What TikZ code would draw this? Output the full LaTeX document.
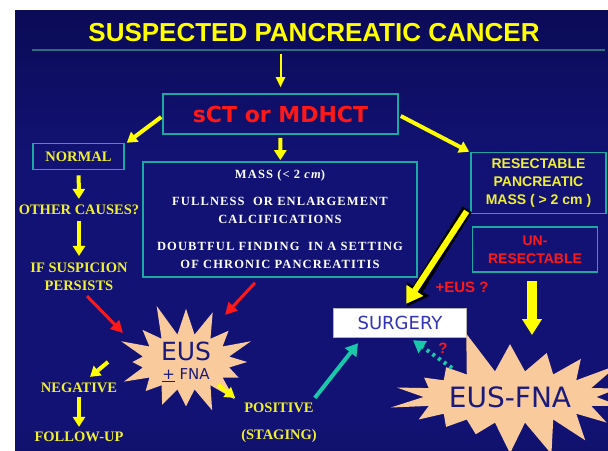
\documentclass[tikz,border=0pt]{standalone}
\usepackage{fontspec}
\setmainfont{Liberation Serif}
\setsansfont{Liberation Sans}
\newfontfamily\comicfont{DejaVu Sans}
\newfontfamily\massfont[LetterSpace=9]{Liberation Serif}
\usepackage{tikz}
\usetikzlibrary{arrows.meta,positioning,shapes.symbols}
\definecolor{slidetop}{HTML}{00002C}
\definecolor{slidemid}{HTML}{121274}
\definecolor{slidebot}{HTML}{02022E}
\definecolor{boxteal}{HTML}{1FA8A0}
\definecolor{ruleteal}{HTML}{2E6E7C}
\definecolor{flowyellow}{HTML}{FFFF00}
\definecolor{textyellow}{HTML}{F0F030}
\definecolor{alertred}{HTML}{FF1818}
\definecolor{linkteal}{HTML}{19C8A8}
\definecolor{burstpeach}{HTML}{F8CA9C}
\definecolor{inkblue}{HTML}{1A1A7A}
\definecolor{surgeryblue}{HTML}{3333B5}
\pgfdeclareverticalshading{slidebg}{100bp}{color(0bp)=(slidebot); color(28bp)=(slidemid); color(58bp)=(slidemid); color(100bp)=(slidetop)}
\tikzset{
  box/.style={draw=boxteal, line width=1.6pt, align=center, inner sep=2pt},
  ylabel/.style={text=textyellow, font=\bfseries\fontsize{14.5}{16}\selectfont,
                 inner sep=1pt, align=center},
  slabel/.style={font=\sffamily\bfseries\fontsize{14}{18}\selectfont, align=center},
  thinflow/.style={-{Triangle[length=10pt,width=9pt]}, line width=2pt, draw=flowyellow},
  flow/.style={-{Triangle[length=10pt,width=12pt]}, line width=4pt, draw=flowyellow},
  fatflow/.style={-{Triangle[length=16pt,width=19pt]}, line width=10pt, draw=flowyellow},
  redflow/.style={-{Triangle[length=12pt,width=12pt]}, line width=3pt, draw=alertred},
  tealflow/.style={-{Triangle[length=12pt,width=14pt]}, line width=4pt, draw=linkteal},
  dotflow/.style={tealflow, dash pattern=on 3pt off 4pt},
  burst/.style={starburst, fill=burstpeach, draw=none, text=inkblue, align=center,
                inner sep=0pt}
}

\begin{document}
\begin{tikzpicture}[x=1pt, y=-1pt]
  \fill[white] (0,0) rectangle (608,450);
  \useasboundingbox (0,0) rectangle (608,450);
  \clip (0,0) rectangle (608,450);
  \shade[shading=slidebg] (15,10) rectangle (608,450);
  \draw[ruleteal, line width=1.5pt] (32,50) -- (605,50);

  \node[text=flowyellow, font=\sffamily\bfseries\fontsize{26}{30}\selectfont] (title) at (314,33) {SUSPECTED PANCREATIC CANCER};
  \node[box, minimum width=235pt, minimum height=40pt, text=alertred, font=\comicfont\bfseries\fontsize{22}{26}\selectfont] (sct) at (280.5,114) {sCT or MDHCT};

  % left column
  \node[box, ylabel, minimum width=91pt, minimum height=26pt] (normal) at (78.5,156.5) {NORMAL};
  \node[ylabel] (other) at (79,210) {OTHER CAUSES?};
  \node[ylabel, font=\bfseries\fontsize{14.5}{18}\selectfont] (ifsusp) at (79,277) {IF SUSPICION\\PERSISTS};

  % middle box
  \node[box, minimum width=274pt, minimum height=115pt, text=white, font=\massfont\bfseries\fontsize{12.5}{18}\selectfont] (mass) at (280,219.5)
    {MASS (< 2 {\itshape cm})\\[9pt] FULLNESS\ \ OR ENLARGEMENT\\CALCIFICATIONS\\[9pt] DOUBTFUL FINDING\ \ IN A SETTING\\OF CHRONIC PANCREATITIS};

  % right column
  \node[box, slabel, text=textyellow, minimum width=135pt, minimum height=61pt] (resect) at (538.5,183) {RESECTABLE\\PANCREATIC\\MASS ( > 2 cm )};
  \node[box, slabel, text=alertred, minimum width=125pt, minimum height=45pt] (unres) at (535,249.5) {UN-\\RESECTABLE};
  \node[fill=white, draw=gray!60, minimum width=133pt, minimum height=29pt, inner sep=0pt, text=surgeryblue, font=\comicfont\fontsize{18}{20}\selectfont] (surgery) at (400,322.5) {SURGERY};
  \node[text=alertred, font=\sffamily\bfseries\fontsize{15}{18}\selectfont] (pluseus) at (462,287) {+EUS ?};
  \node[text=alertred, font=\sffamily\bfseries\fontsize{15}{18}\selectfont] (qmark) at (443,348) {?};

  % bursts
  \node[burst, starburst points=16, starburst point height=34pt, random starburst=11, minimum width=156pt, minimum height=114pt] (eus) at (186,362)
    {{\comicfont\fontsize{25}{28}\selectfont EUS}\\[7pt]{\comicfont\fontsize{15}{18}\selectfont \underline{+} FNA}};
  \node[burst, starburst points=18, starburst point height=44pt, random starburst=5, minimum width=225pt, minimum height=140pt] (eusfna) at (510,397)
    {\comicfont\fontsize{28}{30}\selectfont EUS-FNA};

  \node[ylabel] (negative) at (79,388) {NEGATIVE};
  \node[ylabel] (followup) at (79,437) {FOLLOW-UP};
  \node[ylabel] (positive) at (279,408) {POSITIVE};
  \node[ylabel] (staging) at (279,436) {(STAGING)};

  % connectors
  \draw[thinflow, shorten <=8pt, shorten >=6pt] (sct.north |- title.south) -- (sct);
  \draw[flow] ([shift={(-1,3)}]sct.west) -- ([shift={(2,0)}]normal.north east);
  \draw[flow, shorten <=3pt, shorten >=1pt] (sct) -- (mass);
  \draw[flow] ([shift={(2,2)}]sct.east) -- ([shift={(-1,0)}]resect.north west);
  \draw[flow, shorten <=5pt, shorten >=5pt] (normal) -- (other);
  \draw[flow, shorten <=5pt, shorten >=6pt] (other) -- (ifsusp);
  \draw[redflow] ([shift={(8,4)}]ifsusp.south) -- ([shift={(-63,-29)}]eus.center);
  \draw[redflow] ([shift={(-25,5)}]mass.south) -- ([shift={(39,-47)}]eus.center);
  \draw[flow] ([shift={(-78,0)}]eus.center) -- ([shift={(11,-5)}]negative.north);
  \draw[flow, shorten <=3pt, shorten >=4pt] (negative) -- (followup);
  \draw[flow] ([shift={(32,23)}]eus.center) -- ([shift={(-8,-4)}]positive.north west);
  \draw[tealflow] ([shift={(0,-4)}]positive.north east) -- ([shift={(-42,6)}]surgery.south);
  \draw[dotflow] ([shift={(-58,-29)}]eusfna.center) -- ([shift={(13,3)}]surgery.south);
  \draw[-{Triangle[length=21pt,width=25pt]}, line width=11pt, draw=black] ([shift={(-3,-5)}]resect.south west) -- ([shift={(7,-1)}]surgery.north);
  \draw[-{Triangle[length=16pt,width=19pt]}, line width=6pt, draw=flowyellow] ([shift={(-3.5,-3)}]resect.south west) -- ([shift={(6.2,-4)}]surgery.north);
  \draw[fatflow] ([shift={(-3,8)}]unres.south) -- ([shift={(22,-62)}]eusfna.center);
\end{tikzpicture}
\end{document}
